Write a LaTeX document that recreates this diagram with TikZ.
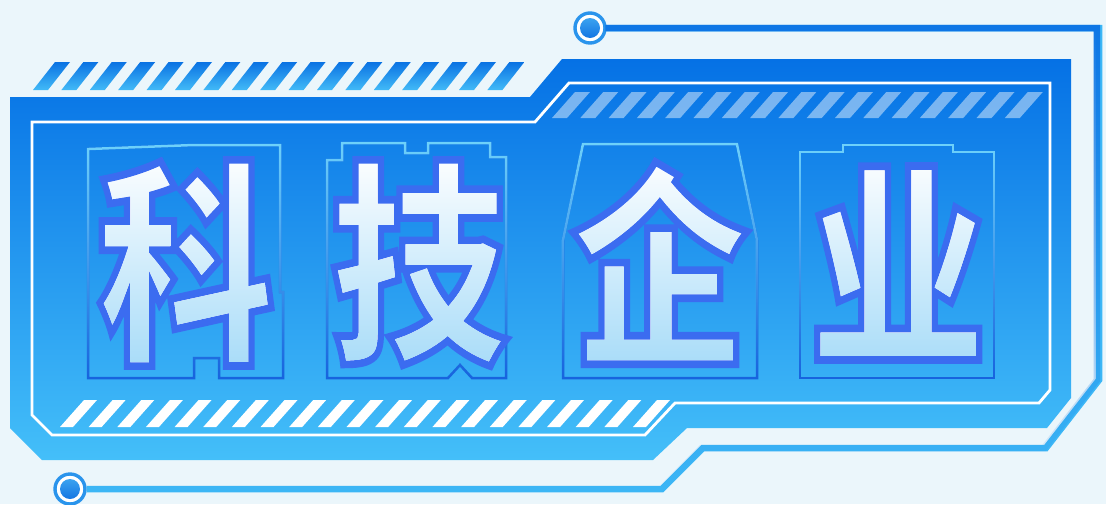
\documentclass[tikz,border=0pt]{standalone}
\usepackage{fontspec}
\IfFontExistsTF{Noto Sans CJK SC Black}{%
  \newfontfamily\cjk{Noto Sans CJK SC Black}[FakeBold=3.5]\newcommand\glyphfont{\cjk}}{%
  \newfontfamily\cjk{Noto Sans CJK SC}[BoldFeatures={FakeBold=3.5}]\newcommand\glyphfont{\cjk\bfseries}}
\usetikzlibrary{fadings}
\definecolor{bg}{HTML}{EBF6FB}
\definecolor{mtop}{HTML}{0571E5}
\definecolor{mbot}{HTML}{44BFF9}
\definecolor{hl1}{HTML}{0A72E3}
\definecolor{hl2}{HTML}{42BAF7}
\definecolor{cdark}{HTML}{0E76E5}
\definecolor{clight}{HTML}{3DB7F6}
\definecolor{olight}{HTML}{6ED2FB}
\definecolor{odark}{HTML}{1763DE}
\definecolor{glow}{HTML}{A6DBF8}
\definecolor{ringc}{HTML}{2A94EC}
\definecolor{hubtop}{HTML}{44AEF3}
\definecolor{hubbot}{HTML}{0A6ADF}
\tikzfading[name=fadedown, top color=transparent!0, bottom color=transparent!100]
\tikzset{
  hub/.style={circle, minimum size=30pt, inner sep=0pt, draw=ringc, line width=3.4pt, fill=white,
    path picture={\shade[top color=hubtop, bottom color=hubbot] (path picture bounding box.center) circle (10pt);}},
  wire/.style={line width=6.5pt, line join=miter},
  glyph/.style={inner sep=0pt, text=white, font=\glyphfont\fontsize{217}{217}\selectfont, xscale=0.82},
  charframe/.style={line width=2.5pt, line join=miter},
  glyphshade/.style={blend mode=darken, top color=white, middle color=white, bottom color=glow},
}
\begin{document}
\begin{tikzpicture}[x=1pt,y=-1pt]
\useasboundingbox (0,0) rectangle (1106,504);
\fill[bg] (0,0) rectangle (1106,504);

% circuit line with hubs
\node[hub] (ctop) at (590,28) {};
\node[hub] (cbot) at (70,489) {};
\draw[wire, clight, postaction={draw, cdark, path fading=fadedown}]
  (ctop.east) -- (1099,28) -- (1099,380) -- (1046,448) -- (703,448) -- (662,489) -- (cbot.east);

% top-left outer hatch
\shade[top color=hl1, bottom color=hl2]
  \foreach \i in {0,...,16} {(33+\i*28.4,90) -- ++(15,0) -- ++(22,-28) -- ++(-15,0) -- cycle};

% main body
\shade[top color=mtop, bottom color=mbot]
  (10,97) -- (530,97) -- (562,59) -- (1071,59) -- (1071,398) -- (1047,428)
  -- (687,428) -- (653,460) -- (42,460) -- (10,428) -- cycle;

% inner translucent hatch
\fill[white, opacity=0.45]
  \foreach \i in {0,...,16} {(552+\i*28.3,118) -- ++(15,0) -- ++(23,-26) -- ++(-15,0) -- cycle};

% white inner line
\draw[white, line width=2.8pt, line join=miter]
  (32,122) -- (535,122) -- (569,83) -- (1050,83) -- (1050,390) -- (1039,403)
  -- (675,403) -- (645,435) -- (52,435) -- (32,415) -- cycle;

% bottom white hatch
\fill[white]
  \foreach \i in {0,...,20} {(60+\i*28.65,427) -- ++(13,0) -- ++(24,-27) -- ++(-13,0) -- cycle};

% character frames
\draw[charframe, odark, postaction={draw, olight, path fading=fadedown}]
  (88,149) -- (193,145) -- (280,145) -- (280,292) -- (283,292) -- (283,378) -- (219,378)
  -- (219,358) -- (194,358) -- (194,378) -- (88,378) -- cycle;
\draw[charframe, odark, postaction={draw, olight, path fading=fadedown}]
  (327,378) -- (327,160) -- (342,160) -- (342,143) -- (405,143) -- (405,153) -- (428,153)
  -- (428,143) -- (490,143) -- (490,157) -- (506,157) -- (506,378) -- (472,378) -- (460,365)
  -- (448,378) -- cycle;
\draw[charframe, odark, postaction={draw, olight, path fading=fadedown}]
  (583,144) -- (737,144) -- (757,240) -- (757,378) -- (563,378) -- (563,240) -- cycle;
\draw[charframe, odark, postaction={draw, olight, path fading=fadedown}]
  (800,152) -- (843,152) -- (843,145) -- (953,145) -- (953,152) -- (994,152) -- (994,378)
  -- (800,378) -- cycle;

% glyphs
\node[glyph] (g1) at (186,263) {\special{pdf:code 0.231 0.424 0.941 RG}科};
\node[glyph] (g2) at (419,263) {\special{pdf:code 0.231 0.424 0.941 RG}技};
\node[glyph] (g3) at (660,263) {\special{pdf:code 0.231 0.424 0.941 RG}企};
\node[glyph] (g4) at (898,263) {\special{pdf:code 0.231 0.424 0.941 RG}业};

\shade[glyphshade] (92,150) rectangle (280,372);
\shade[glyphshade] (330,150) rectangle (504,372);
\shade[glyphshade] (566,150) rectangle (755,372);
\shade[glyphshade] (803,150) rectangle (992,372);
\end{tikzpicture}
\end{document}
